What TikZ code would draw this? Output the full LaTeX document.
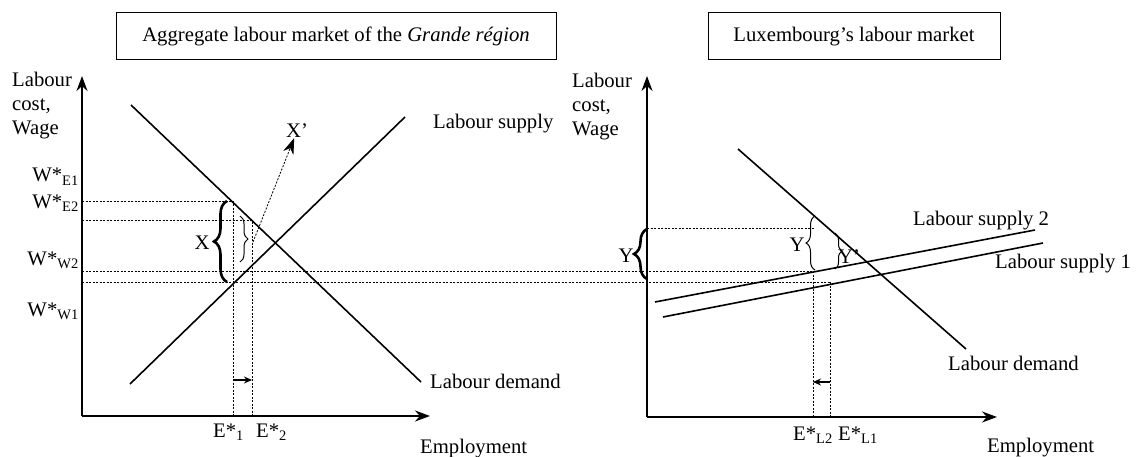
\documentclass[tikz,border=0pt]{standalone}
\usepackage{fontspec}
\setmainfont{Liberation Serif}
\usetikzlibrary{arrows.meta,decorations.pathreplacing}
\tikzset{
  curve/.style={line width=1.6pt},
  axis/.style={line width=1.6pt,-{Stealth[length=15pt,width=11pt]}},
  guide/.style={line width=0.8pt,dash pattern=on 2pt off 1.5pt},
  movearrow/.style={line width=1.2pt,-{Stealth[length=8pt,width=7pt]}},
  lbl/.style={inner sep=0pt,font=\fontsize{20.7}{24}\selectfont},
  titlebox/.style={lbl,draw,line width=1pt,minimum height=47pt},
  bigbrace/.style={decorate,decoration={brace,amplitude=13pt},line width=2.6pt},
  smallbrace/.style={decorate,decoration={brace,amplitude=#1},line width=1pt}
}
\begin{document}
\begin{tikzpicture}[x=1pt,y=-1pt]
\useasboundingbox (0,0) rectangle (1142,457);
\node[titlebox, minimum width=440pt] (ttl0) at (336,36.5){Aggregate labour market of the \textit{Grande région}};
\node[titlebox, minimum width=292pt] (ttl1) at (854,36.5){Luxembourg’s labour market};
\coordinate (lo) at (82,416);
\coordinate (ly) at (82,76);
\coordinate (lx) at (430,416);
\draw[axis](lo) -- (ly);
\draw[axis](lo) -- (lx);
\node[lbl, anchor=base west] (lyl0) at (12,87){Labour};
\node[lbl, anchor=base west] (lyl1) at (12,111){cost,};
\node[lbl, anchor=base west] (lyl2) at (12,135){Wage};
\node[lbl, anchor=base west] (lxl) at (420,453){Employment};
\coordinate (ld0) at (131,105);
\coordinate (ld1) at (421,382);
\coordinate (ls0) at (130,384);
\coordinate (ls1) at (405,117);
\draw[curve](ld0) -- (ld1);
\draw[curve](ls0) -- (ls1);
\node[lbl, anchor=base west] (lsl) at (433,129){Labour supply};
\node[lbl, anchor=base west] (ldl) at (430,388){Labour demand};
\node[lbl, anchor=base east] (we1) at (79,182){W*\textsubscript{E1}};
\node[lbl, anchor=base east] (we2) at (79,208){W*\textsubscript{E2}};
\node[lbl, anchor=base east] (ww2) at (79,265){W*\textsubscript{W2}};
\node[lbl, anchor=base east] (ww1) at (79,316){W*\textsubscript{W1}};
\coordinate (h1a) at (82,201);
\coordinate (h1b) at (233,201);
\coordinate (h2a) at (82,220);
\coordinate (h2b) at (252,220);
\coordinate (h3a) at (82,271);
\coordinate (h3b) at (813,271);
\coordinate (h4a) at (82,282);
\coordinate (h4b) at (830,282);
\coordinate (e1) at (233,416);
\coordinate (e2) at (252,416);
\draw[guide](h1a) -- (h1b) -- (e1);
\draw[guide](h2a) -- (h2b) -- (e2);
\draw[guide](h3a) -- (h3b);
\draw[guide](h4a) -- (h4b);
\coordinate (ea0) at (233,380);
\coordinate (ea1) at (252,380);
\draw[movearrow](ea0) -- (ea1);
\node[lbl, anchor=base west] (e1l) at (213,437){E*\textsubscript{1}};
\node[lbl, anchor=base west] (e2l) at (256,437){E*\textsubscript{2}};
\coordinate (xb0) at (227,282);
\coordinate (xb1) at (227,201);
\draw[bigbrace](xb0) -- (xb1);
\node[lbl] (xl) at (202,243){X};
\coordinate (xpb0) at (240,216);
\coordinate (xpb1) at (240,262);
\draw[smallbrace=8pt](xpb0) -- (xpb1);
\coordinate (xps) at (253,242);
\node[lbl] (xp) at (297,131){X’};
\draw[guide, -{Stealth[length=16pt,width=11pt]}](xps) -- (xp);
\coordinate (ro) at (647,417);
\coordinate (ry) at (647,76);
\coordinate (rx) at (997,417);
\draw[axis](ro) -- (ry);
\draw[axis](ro) -- (rx);
\node[lbl, anchor=base west] (ryl0) at (572,88){Labour};
\node[lbl, anchor=base west] (ryl1) at (572,112){cost,};
\node[lbl, anchor=base west] (ryl2) at (572,136){Wage};
\node[lbl, anchor=base west] (rxl) at (987,452){Employment};
\coordinate (rd0) at (738,149);
\coordinate (rd1) at (966,349);
\coordinate (rs20) at (655,302);
\coordinate (rs21) at (1035,230);
\coordinate (rs10) at (663,317);
\coordinate (rs11) at (1043,243);
\draw[curve](rd0) -- (rd1);
\draw[curve](rs20) -- (rs21);
\draw[curve](rs10) -- (rs11);
\node[lbl, anchor=base west] (rs2l) at (913,225){Labour supply 2};
\node[lbl, anchor=base west] (rs1l) at (995,268){Labour supply 1};
\node[lbl, anchor=base west] (rdl) at (948,370){Labour demand};
\coordinate (h5a) at (647,228);
\coordinate (h5b) at (815,228);
\coordinate (el2) at (813,417);
\coordinate (el1) at (830,417);
\draw[guide](h5a) -- (h5b);
\draw[guide](h3b) -- (el2);
\draw[guide](h4b) -- (el1);
\coordinate (la0) at (830,382);
\coordinate (la1) at (813,382);
\draw[movearrow](la0) -- (la1);
\node[lbl, anchor=base west] (el2l) at (793,440){E*\textsubscript{L2}};
\node[lbl, anchor=base west] (el1l) at (838,440){E*\textsubscript{L1}};
\coordinate (yb0) at (647,279);
\coordinate (yb1) at (647,229);
\draw[bigbrace](yb0) -- (yb1);
\node[lbl] (yl) at (626,256){Y};
\coordinate (yc0) at (815,270);
\coordinate (yc1) at (815,216);
\draw[smallbrace=9pt](yc0) -- (yc1);
\node[lbl] (yl2) at (797,245){Y};
\coordinate (ypb0) at (835,233);
\coordinate (ypb1) at (835,269);
\draw[smallbrace=7pt](ypb0) -- (ypb1);
\node[lbl] (yp) at (849,257){Y’};
\end{tikzpicture}
\end{document}
